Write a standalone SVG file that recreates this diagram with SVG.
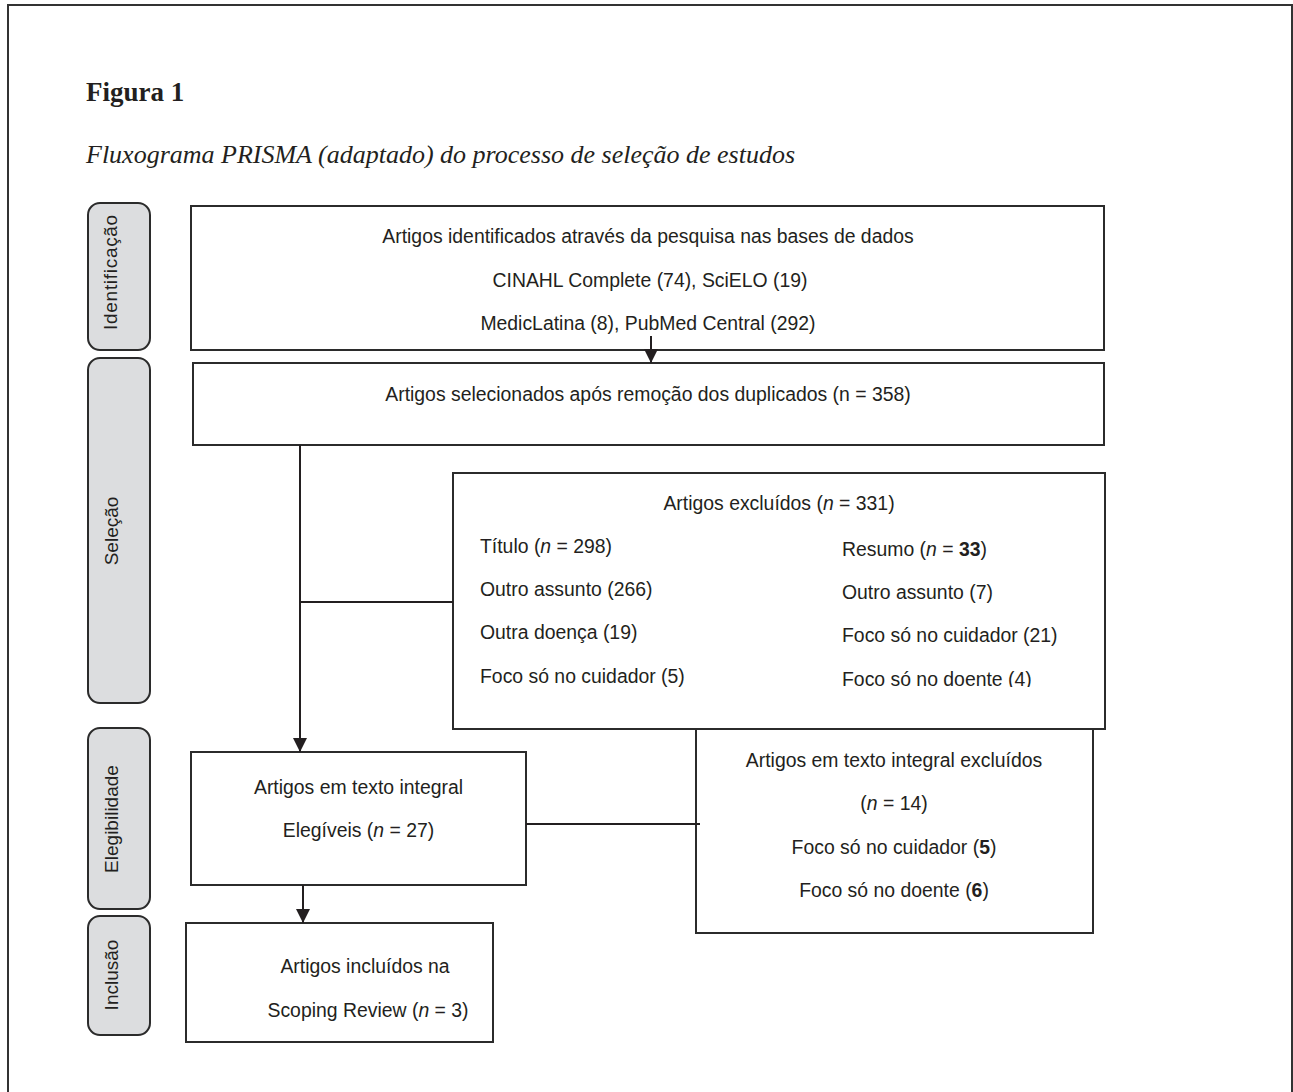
<svg xmlns="http://www.w3.org/2000/svg" width="1293" height="1092" viewBox="0 0 1293 1092">
<style>
.frame{fill:none;stroke:#333;stroke-width:2}
.box{fill:#fff;stroke:#2b2b2b;stroke-width:2}
.side{fill:#dcdddf;stroke:#2b2b2b;stroke-width:2}
.t{font-family:"Liberation Sans",Arial,sans-serif;font-size:19.4px;fill:#231f20}
.c{text-anchor:middle}
.s{font-family:"Liberation Sans",Arial,sans-serif;font-size:19px;fill:#231f20;text-anchor:middle}
.ln{fill:none;stroke:#231f20;stroke-width:2}
</style>
<defs>
<marker id="ah" markerUnits="userSpaceOnUse" markerWidth="16" markerHeight="16" refX="14" refY="7" orient="auto">
<path d="M0,0 L14,7 L0,14 Z" fill="#231f20"/>
</marker>
<clipPath id="clipDoente"><rect x="800" y="600" width="300" height="87"/></clipPath>
</defs>
<rect class="frame" x="8" y="5" width="1284" height="1110"/>
<text x="86" y="101" font-family="'Liberation Serif','Times New Roman',serif" font-weight="bold" font-size="27" fill="#231f20">Figura 1</text>
<text x="86" y="163" font-family="'Liberation Serif','Times New Roman',serif" font-style="italic" font-size="26" fill="#231f20">Fluxograma PRISMA (adaptado) do processo de seleção de estudos</text>

<g id="stage-identificacao">
<rect class="side" x="88" y="203" width="62" height="147" rx="12"/>
<text class="s" transform="translate(117,272) rotate(-90)" letter-spacing="0.7">Identificação</text>
</g>
<g id="stage-selecao">
<rect class="side" x="88" y="358" width="62" height="345" rx="12"/>
<text class="s" transform="translate(118,531) rotate(-90)">Seleção</text>
</g>
<g id="stage-elegibilidade">
<rect class="side" x="88" y="728" width="62" height="181" rx="12"/>
<text class="s" transform="translate(118,819) rotate(-90)">Elegibilidade</text>
</g>
<g id="stage-inclusao">
<rect class="side" x="88" y="916" width="62" height="119" rx="12"/>
<text class="s" transform="translate(118,975) rotate(-90)">Inclusão</text>
</g>

<g id="box-identificados">
<rect class="box" x="191" y="206" width="913" height="144"/>
<text class="t c" x="648" y="243">Artigos identificados através da pesquisa nas bases de dados</text>
<text class="t c" x="650" y="287">CINAHL Complete (74), SciELO (19)</text>
<text class="t c" x="648" y="330">MedicLatina (8), PubMed Central (292)</text>
</g>
<g id="box-selecionados">
<rect class="box" x="193" y="363" width="911" height="82"/>
<text class="t c" x="648" y="401">Artigos selecionados após remoção dos duplicados (n = 358)</text>
</g>
<g id="box-excluidos">
<rect class="box" x="453" y="473" width="652" height="256"/>
<text class="t c" x="779" y="510">Artigos excluídos (<tspan font-style="italic">n</tspan> = 331)</text>
<text class="t" x="480" y="553">Título (<tspan font-style="italic">n</tspan> = 298)</text>
<text class="t" x="480" y="596">Outro assunto (266)</text>
<text class="t" x="480" y="639">Outra doença (19)</text>
<text class="t" x="480" y="683">Foco só no cuidador (5)</text>
<text class="t" x="842" y="556">Resumo (<tspan font-style="italic">n</tspan> = <tspan font-weight="bold">33</tspan>)</text>
<text class="t" x="842" y="599">Outro assunto (7)</text>
<text class="t" x="842" y="642">Foco só no cuidador (21)</text>
<text class="t" x="842" y="686" clip-path="url(#clipDoente)">Foco só no doente (4)</text>
</g>
<g id="box-elegiveis">
<rect class="box" x="191" y="752" width="335" height="133"/>
<text class="t c" x="358.5" y="794">Artigos em texto integral</text>
<text class="t c" x="358.5" y="837">Elegíveis (<tspan font-style="italic">n</tspan> = 27)</text>
</g>
<g id="box-excluidos-integral">
<rect class="box" x="696" y="729" width="397" height="204"/>
<text class="t c" x="894" y="767">Artigos em texto integral excluídos</text>
<text class="t c" x="894" y="810">(<tspan font-style="italic">n</tspan> = 14)</text>
<text class="t c" x="894" y="854">Foco só no cuidador (<tspan font-weight="bold">5</tspan>)</text>
<text class="t c" x="894" y="897">Foco só no doente (<tspan font-weight="bold">6</tspan>)</text>
</g>
<g id="box-incluidos">
<rect class="box" x="186" y="923" width="307" height="119"/>
<text class="t c" x="365" y="973">Artigos incluídos na</text>
<text class="t c" x="368" y="1017">Scoping Review (<tspan font-style="italic">n</tspan> = 3)</text>
</g>

<g id="connectors">
<line class="ln" x1="651" y1="336" x2="651" y2="363" marker-end="url(#ah)"/>
<line class="ln" x1="300" y1="445" x2="300" y2="752" marker-end="url(#ah)"/>
<line class="ln" x1="300" y1="602" x2="453" y2="602"/>
<line class="ln" x1="526" y1="824" x2="700" y2="824"/>
<line class="ln" x1="303" y1="885" x2="303" y2="923" marker-end="url(#ah)"/>
</g>
</svg>
